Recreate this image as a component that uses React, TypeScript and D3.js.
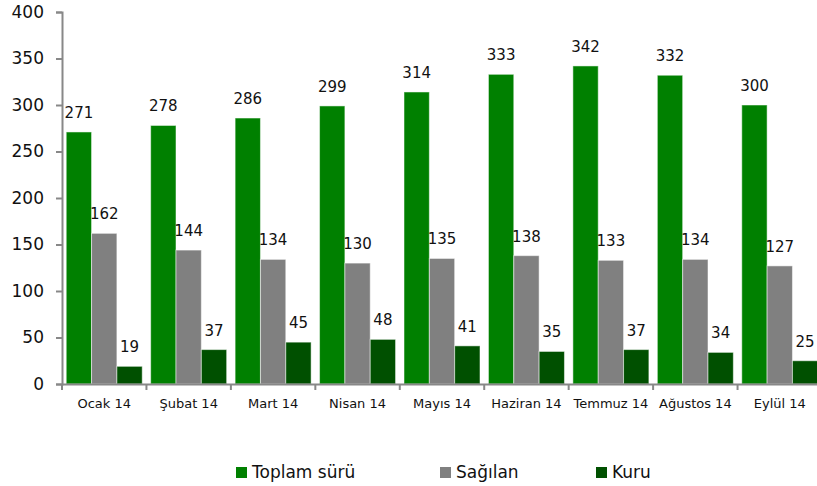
import React, { useEffect, useRef } from 'react';
import * as d3 from 'd3';

const months = ['Ocak 14', 'Şubat 14', 'Mart 14', 'Nisan 14', 'Mayıs 14', 'Haziran 14', 'Temmuz 14', 'Ağustos 14', 'Eylül 14'];
const toplam = [271, 278, 286, 299, 314, 333, 342, 332, 300];
const sagilan = [162, 144, 134, 130, 135, 138, 133, 134, 127];
const kuru = [19, 37, 45, 48, 41, 35, 37, 34, 25];
const seriesNames = ['Toplam sürü', 'Sağılan', 'Kuru'];
const seriesColors = ['#008000', '#808080', '#005000'];
const yTicks = [0, 50, 100, 150, 200, 250, 300, 350, 400];

const W = 817;
const H = 486;
const font = 'Verdana, "DejaVu Sans", sans-serif';

const App = () => {
  const svgRef = useRef<SVGSVGElement>(null);

  useEffect(() => {
    const svg = d3.select(svgRef.current);
    svg.selectAll('*').remove();

    const series = [toplam, sagilan, kuru];
    const rows = months.map((m, i) => ({ name: m, values: series.map((s) => s[i]) }));

    const x0 = d3.scaleBand().domain(months).range([62, 822]).paddingInner(0.1).paddingOuter(0.05);
    const x1 = d3.scaleBand().domain(seriesNames).range([0, x0.bandwidth()]).padding(0);
    const y = d3.scaleLinear().domain([0, 400]).range([384, 12]);

    // y axis
    const yAxis = svg.append('g').attr('transform', 'translate(62,0)')
      .call(d3.axisLeft(y).tickValues(yTicks).tickSize(6).tickPadding(12));
    yAxis.select('.domain').attr('stroke', '#888').attr('stroke-width', 2);
    yAxis.selectAll('.tick line').attr('stroke', '#888').attr('stroke-width', 2);
    yAxis.selectAll('.tick text').attr('font-family', font).attr('font-size', 17).attr('fill', '#111');

    // bars
    const groups = svg.selectAll('.grp').data(rows).join('g')
      .attr('class', 'grp')
      .attr('transform', (d) => `translate(${x0(d.name)},0)`);

    groups.selectAll('rect')
      .data((d) => d.values.map((v, k) => ({ v, k })))
      .join('rect')
      .attr('x', (d) => x1(seriesNames[d.k])!)
      .attr('width', x1.bandwidth())
      .attr('y', (d) => y(d.v))
      .attr('height', (d) => y(0) - y(d.v))
      .attr('fill', (d) => seriesColors[d.k])
      .attr('stroke', '#ffffff')
      .attr('stroke-opacity', 0.5)
      .attr('stroke-width', 1);

    groups.selectAll('text')
      .data((d) => d.values.map((v, k) => ({ v, k })))
      .join('text')
      .attr('x', (d) => x1(seriesNames[d.k])! + x1.bandwidth() / 2)
      .attr('y', (d) => y(d.v) - 14)
      .attr('text-anchor', 'middle')
      .attr('font-family', font)
      .attr('font-size', 15)
      .attr('fill', '#111')
      .text((d) => d.v);

    // x axis
    const step = x0.step();
    const bounds = d3.range(months.length + 1).map((i) => 62 + i * step);
    svg.append('line').attr('x1', 62).attr('x2', 822).attr('y1', 384.5).attr('y2', 384.5)
      .attr('stroke', '#888').attr('stroke-width', 2);
    svg.selectAll('.xt').data(bounds).join('line').attr('class', 'xt')
      .attr('x1', (d) => d).attr('x2', (d) => d).attr('y1', 384).attr('y2', 390)
      .attr('stroke', '#888').attr('stroke-width', 2);
    svg.selectAll('.xl').data(months).join('text').attr('class', 'xl')
      .attr('x', (d) => x0(d)! + x0.bandwidth() / 2)
      .attr('y', 408)
      .attr('text-anchor', 'middle')
      .attr('font-family', font)
      .attr('font-size', 13)
      .attr('fill', '#111')
      .text((d) => d);

    // legend
    const legendX = [236, 440, 596];
    const lg = svg.selectAll('.lg').data(seriesNames).join('g').attr('class', 'lg')
      .attr('transform', (d, i) => `translate(${legendX[i]},467)`);
    lg.append('rect').attr('width', 11).attr('height', 11).attr('fill', (d, i) => seriesColors[i]);
    lg.append('text').attr('x', 16).attr('y', 11)
      .attr('font-family', font).attr('font-size', 17).attr('fill', '#111')
      .text((d) => d);
  }, []);

  return (
    <svg ref={svgRef} width={W} height={H} style={{ position: 'absolute', left: 0, top: 0, background: '#fff' }} />
  );
};

export default App;
